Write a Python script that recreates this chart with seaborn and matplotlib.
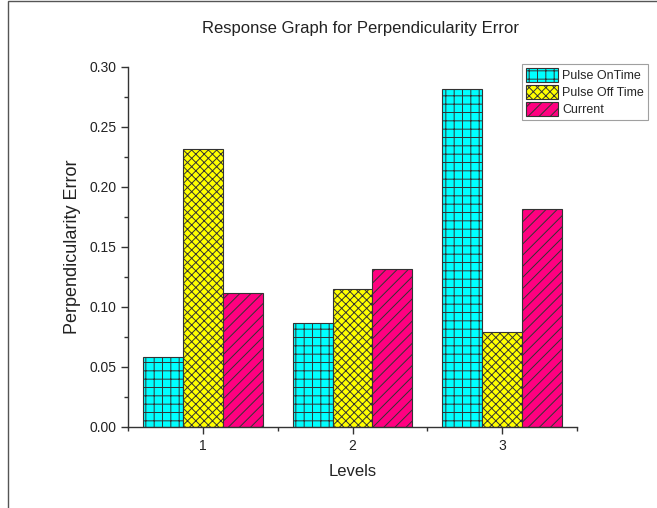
import numpy as np
import pandas as pd
import seaborn as sns
import matplotlib
matplotlib.use("Agg")
import matplotlib.pyplot as plt
from matplotlib.patches import Patch, Rectangle
from matplotlib.ticker import MultipleLocator, FixedLocator

levels = ["1", "2", "3"]
factors = ["Pulse OnTime", "Pulse Off Time", "Current"]
pulse_on = [0.058, 0.087, 0.282]
pulse_off = [0.232, 0.115, 0.079]
current = [0.112, 0.132, 0.182]

colors = ["#00FFFF", "#FFFF00", "#FF0080"]
hatches = ["++", "xxxx", "///"]

df = pd.DataFrame({
    "Level": levels * 3,
    "Factor": sum([[f] * 3 for f in factors], []),
    "Value": pulse_on + pulse_off + current,
})

sns.set_style("ticks")
plt.rcParams["font.family"] = ["Liberation Sans", "DejaVu Sans"]
plt.rcParams["hatch.linewidth"] = 0.7
plt.rcParams["hatch.color"] = "#333333"

fig = plt.figure(figsize=(6.57, 5.08), dpi=100)
ax = fig.add_axes([128/657, 1-427/508, (577-128)/657, (427-67)/508])

sns.barplot(data=df, x="Level", y="Value", hue="Factor", hue_order=factors,
            palette=colors, width=0.8, gap=0, saturation=1, ax=ax,
            edgecolor="#333333", linewidth=0.8, legend=False)

for cont, h in zip(ax.containers, hatches):
    for p in cont:
        p.set_hatch(h)

ax.set_xlim(-0.5, 2.5)
ax.set_ylim(0, 0.30)
ax.yaxis.set_major_locator(MultipleLocator(0.05))
ax.yaxis.set_minor_locator(MultipleLocator(0.025))
ax.xaxis.set_minor_locator(FixedLocator([-0.5, 0.5, 1.5, 2.5]))
ax.yaxis.set_major_formatter(plt.FormatStrFormatter("%.2f"))
ax.tick_params(axis="both", which="major", direction="out", length=5, width=1,
               labelsize=10, colors="#333333", labelcolor="#222222")
ax.tick_params(axis="both", which="minor", direction="out", length=3, width=1, colors="#333333")
for s in ["top", "right"]:
    ax.spines[s].set_visible(False)
for s in ["left", "bottom"]:
    ax.spines[s].set_color("#333333")
    ax.spines[s].set_linewidth(1)

ax.set_xlabel("Levels", fontsize=12, labelpad=8, color="#222222")
ax.set_ylabel("Perpendicularity Error", fontsize=13, labelpad=6, color="#222222")

fig.text(360/657, 1-29/508, "Response Graph for Perpendicularity Error",
         ha="center", va="center", fontsize=12, color="#222222")

handles = [Patch(facecolor=c, edgecolor="#333333", hatch=h, linewidth=0.8, label=f)
           for c, h, f in zip(colors, hatches, factors)]
leg = fig.legend(handles=handles, loc="upper left", bbox_to_anchor=(522/657, 1-64/508),
                 fontsize=9, frameon=True, fancybox=False, borderpad=0.3,
                 handlelength=2.6, handleheight=1.4, handletextpad=0.3,
                 labelspacing=0.2, borderaxespad=0)
leg.get_frame().set_edgecolor("#888888")
leg.get_frame().set_linewidth(0.8)

fig.add_artist(Rectangle((8/657, -0.01), 1.0, 1 - 1/508 + 0.01, transform=fig.transFigure,
                         fill=False, edgecolor="#555555", linewidth=1))

fig.savefig("out.png", dpi=100)
